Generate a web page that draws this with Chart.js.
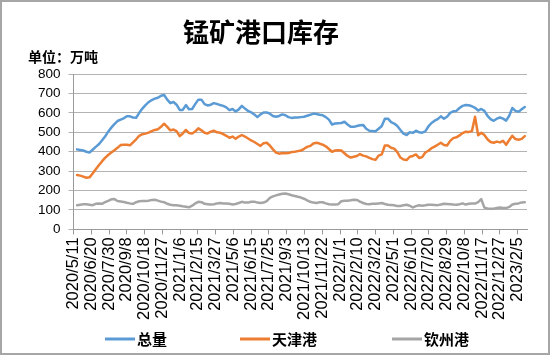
<!DOCTYPE html>
<html>
<head>
<meta charset="utf-8">
<script src="https://cdn.jsdelivr.net/npm/chart.js@4.4.0/dist/chart.umd.min.js"></script>
<style>
html,body{margin:0;padding:0;background:#fff;}
#wrap{width:550px;height:355px;position:relative;}
</style>
</head>
<body>
<div id="wrap"><canvas id="c" width="550" height="355"></canvas></div>
<script>
// ---- text ----
const titleText = '锰矿港口库存';
const unitText = '单位：万吨';
const seriesNames = ['总量', '天津港', '钦州港'];

// ---- dates: weekly observations, day offsets from 2020/5/11 ----
const axisStart = [2020, 5, 11];
const firstDayOffset = 8;
const dayStep = 7;

// ---- x tick labels (every 40 days) ----
const tickLabels = ['2020/5/11','2020/6/20','2020/7/30','2020/9/8','2020/10/18','2020/11/27',
  '2021/1/6','2021/2/15','2021/3/27','2021/5/6','2021/6/15','2021/7/25','2021/9/3','2021/10/13',
  '2021/11/22','2022/1/1','2022/2/10','2022/3/22','2022/5/1','2022/6/10','2022/7/20','2022/8/29',
  '2022/10/8','2022/11/17','2022/12/27','2023/2/5'];

// ---- series values (万吨) ----
const total = [
 412,409,406,400,396,410,425,438,458,478,
 503,524,542,558,565,572,583,582,576,575,
 600,622,640,655,666,673,678,688,692,668,
 650,656,642,615,615,640,618,620,645,668,
 668,645,638,642,650,646,640,636,628,614,
 620,607,618,636,622,610,603,592,578,592,
 602,602,596,584,580,584,592,588,578,574,
 576,576,578,580,585,590,596,594,590,588,
 578,565,540,545,547,548,554,540,528,528,
 532,536,538,518,508,506,505,518,532,570,
 570,552,545,532,512,493,486,500,497,508,
 500,498,505,530,548,560,568,582,570,580,
 600,608,610,625,636,640,639,634,626,612,
 620,610,585,568,559,570,576,570,560,585,
 625,610,606,618,630];
const tianjin = [
 280,277,272,266,268,288,310,330,350,368,
 383,396,408,420,434,436,436,433,448,464,
 482,490,493,498,506,512,516,528,544,528,
 510,514,506,480,494,512,496,494,504,520,
 510,498,494,503,508,500,498,490,482,472,
 478,467,478,486,478,468,458,450,440,430,
 444,446,432,412,395,390,393,392,393,398,
 400,403,406,415,425,430,442,446,442,436,
 428,414,400,406,408,406,392,378,370,374,
 378,388,380,376,368,362,358,380,386,432,
 432,420,416,398,370,360,357,374,378,386,
 368,372,396,405,418,426,436,446,434,432,
 456,470,474,484,496,503,502,506,580,485,
 498,486,464,450,446,452,448,456,436,460,
 482,465,462,466,480];
const qinzhou = [
 124,127,129,129,127,125,132,134,132,140,
 147,155,156,146,144,141,137,134,132,140,
 145,146,146,148,152,153,148,143,140,132,
 127,124,124,122,119,117,114,122,134,142,
 140,132,130,128,130,134,136,133,134,132,
 128,131,136,142,138,138,142,143,138,136,
 138,146,162,170,175,180,184,185,181,176,
 172,168,164,158,150,142,138,136,140,140,
 134,130,128,128,130,145,147,148,150,153,
 152,143,136,131,130,132,132,134,136,131,
 127,126,124,120,121,124,127,122,113,120,
 124,122,124,127,127,126,125,128,132,131,
 130,128,127,130,134,128,132,134,133,140,
 156,112,108,107,107,110,113,110,110,116,
 128,132,134,139,140];

const colors = ['#5B9BD5', '#ED7D31', '#A5A5A5'];

function toPoints(arr) {
  return arr.map((v, i) => ({ x: firstDayOffset + dayStep * i, y: v }));
}

const numFont = '"Liberation Sans", Arial, "Noto Sans CJK SC", sans-serif';
const cjkFont = '"Noto Sans CJK SC", "Liberation Sans", sans-serif';

const decor = {
  id: 'decor',
  beforeDraw(chart) {
    const ctx = chart.ctx;
    ctx.save();
    ctx.fillStyle = '#ffffff';
    ctx.fillRect(0, 0, chart.width, chart.height);
    ctx.restore();
  },
  afterDraw(chart) {
    const ctx = chart.ctx;
    ctx.save();
    // frame
    ctx.strokeStyle = '#a6a6a6';
    ctx.lineWidth = 2;
    ctx.strokeRect(1, 1, chart.width - 2, chart.height - 2);
    // title
    ctx.fillStyle = '#000';
    ctx.font = 'bold 26px ' + cjkFont;
    ctx.textAlign = 'center';
    ctx.textBaseline = 'middle';
    ctx.fillText(titleText, 261, 32);
    // unit
    ctx.font = 'bold 14px ' + cjkFont;
    ctx.textAlign = 'left';
    ctx.fillText(unitText, 28, 57);
    // legend
    const starts = [105, 240, 392];
    const ly = 339;
    chart.data.datasets.forEach((ds, k) => {
      const x0 = starts[k];
      ctx.strokeStyle = ds.borderColor;
      ctx.lineWidth = 3;
      ctx.beginPath();
      ctx.moveTo(x0, ly);
      ctx.lineTo(x0 + 30, ly);
      ctx.stroke();
      ctx.fillStyle = '#000';
      ctx.font = 'bold 15px ' + cjkFont;
      ctx.textAlign = 'left';
      ctx.textBaseline = 'middle';
      ctx.fillText(ds.label, x0 + 32, ly);
    });
    ctx.restore();
  }
};

new Chart(document.getElementById('c'), {
  type: 'line',
  data: {
    datasets: [
      { label: seriesNames[0], data: toPoints(total), borderColor: colors[0], backgroundColor: colors[0] },
      { label: seriesNames[1], data: toPoints(tianjin), borderColor: colors[1], backgroundColor: colors[1] },
      { label: seriesNames[2], data: toPoints(qinzhou), borderColor: colors[2], backgroundColor: colors[2] }
    ]
  },
  options: {
    responsive: false,
    animation: false,
    devicePixelRatio: 1,
    layout: { padding: { top: 74, left: 30, right: 23, bottom: 32 } },
    elements: {
      point: { radius: 0 },
      line: { borderWidth: 2.5, tension: 0, borderCapStyle: 'round', borderJoinStyle: 'round' }
    },
    plugins: {
      legend: { display: false },
      title: { display: false },
      tooltip: { enabled: false }
    },
    scales: {
      x: {
        type: 'linear',
        min: 0,
        max: 1021,
        grid: { drawOnChartArea: false, drawTicks: true, tickLength: 5, color: '#9a9a9a' },
        border: { display: true, color: '#9a9a9a', width: 1 },
        ticks: {
          stepSize: 40,
          includeBounds: false,
          autoSkip: false,
          maxRotation: 90,
          minRotation: 90,
          padding: 3,
          color: '#000',
          font: { family: numFont, size: 16.5 },
          callback: (v) => tickLabels[Math.round(v / 40)] || ''
        }
      },
      y: {
        min: 0,
        max: 800,
        grid: { color: '#b3b3b3', lineWidth: 1, tickLength: 5, drawTicks: true },
        border: { display: true, color: '#9a9a9a', width: 1 },
        ticks: {
          stepSize: 100,
          padding: 8,
          color: '#000',
          font: { family: numFont, size: 13.5 }
        }
      }
    }
  },
  plugins: [decor]
});
</script>
</body>
</html>
